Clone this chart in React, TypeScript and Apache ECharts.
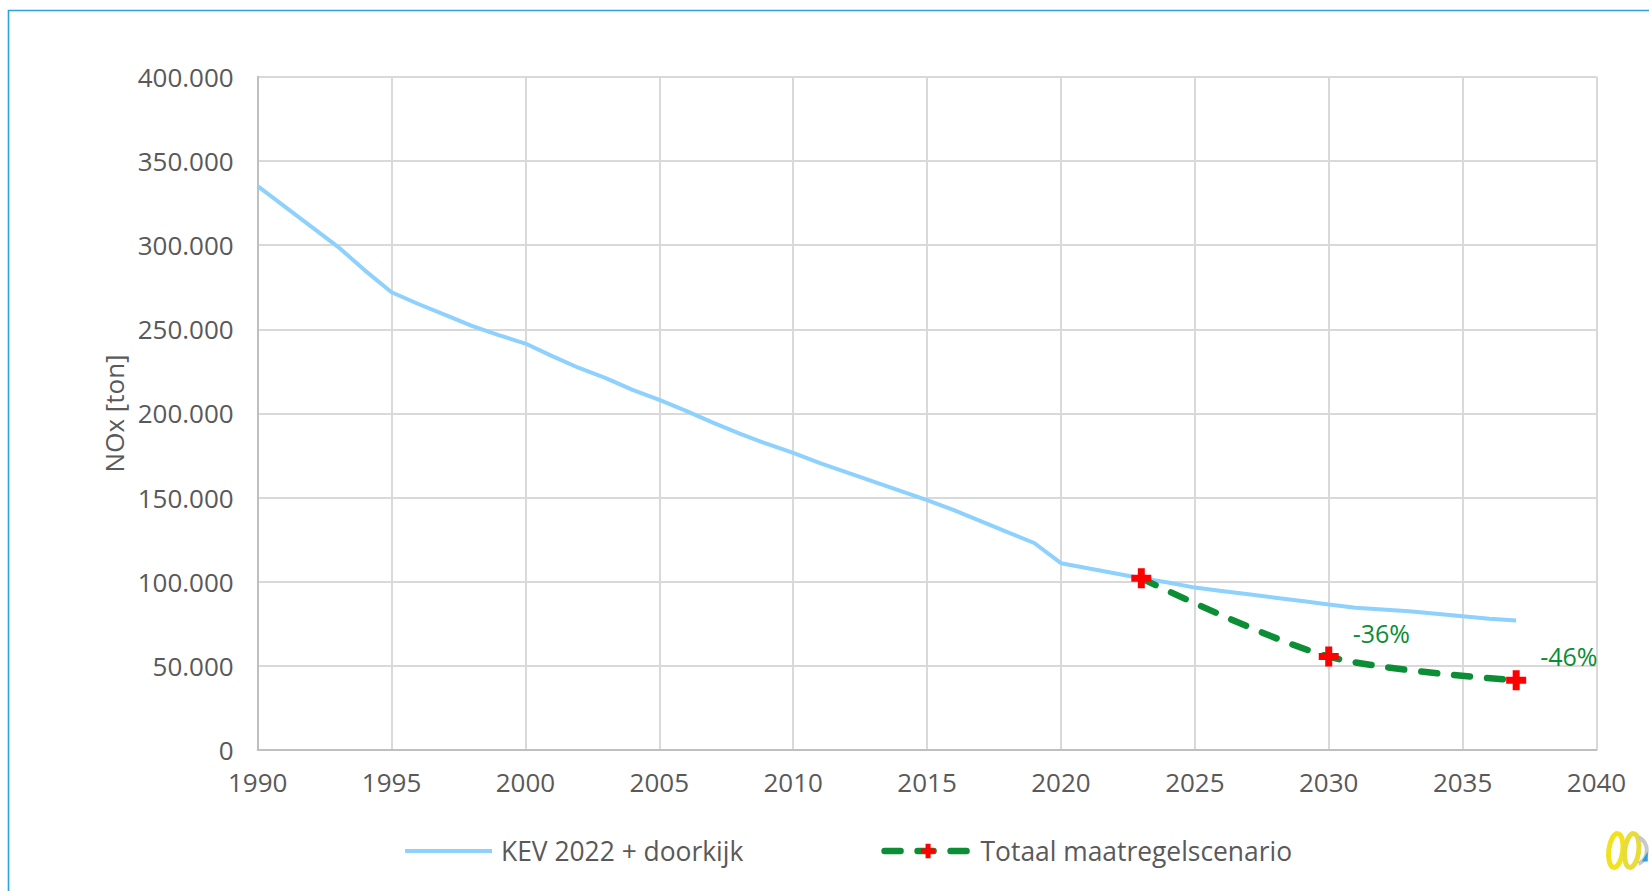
import React, { useEffect, useRef } from "react";
import * as echarts from "echarts";

// NOx emissions, tonnes per year
const kevYears = [
  1990, 1991, 1992, 1993, 1994, 1995, 1996, 1997, 1998, 1999, 2000, 2001, 2002,
  2003, 2004, 2005, 2006, 2007, 2008, 2009, 2010, 2011, 2012, 2013, 2014, 2015,
  2016, 2017, 2018, 2019, 2020, 2021, 2022, 2023, 2024, 2025, 2026, 2027, 2028,
  2029, 2030, 2031, 2032, 2033, 2034, 2035, 2036, 2037,
];
const kevValues = [
  335000, 323000, 311000, 299000, 285000, 272000, 265000, 258500, 252000,
  246500, 241500, 234000, 227000, 221000, 214000, 208000, 201500, 194500,
  188000, 182000, 176500, 170500, 165000, 159500, 154000, 148500, 142500,
  136000, 129500, 123000, 111000, 108000, 105000, 102000, 99500, 96500, 94500,
  92500, 90500, 88500, 86500, 84500, 83500, 82500, 81000, 79500, 78000, 77000,
];

const scenarioYears = [2023, 2030, 2037];
const scenarioValues = [102000, 55500, 41500];

const seriesNames = ["KEV 2022 + doorkijk", "Totaal maatregelscenario"];
const yAxisName = "NOx [ton]";

const FONT = "'Open Sans', 'Noto Sans', sans-serif";
const TEXT = "#595959";
const GRID = "#d9d9d9";
const AXIS = "#bfbfbf";
const BLUE = "#8ed1fc";
const GREEN = "#0b8e36";
const RED = "#ff0000";
const FRAME = "#29a3dc";

const PLUS = "path://M6.5 0H13.5V6.5H20V13.5H13.5V20H6.5V13.5H0V6.5H6.5Z";
const GREEN_DASH = [16, 17];

const thousands = (v: number) =>
  String(v).replace(/\B(?=(\d{3})+(?!\d))/g, ".");

// reduction of the scenario relative to the baseline in the same year
const reduction = (i: number) => {
  const base = kevValues[kevYears.indexOf(scenarioYears[i])];
  return `${Math.round((scenarioValues[i] / base - 1) * 100)}%`;
};

export default function App() {
  const ref = useRef<HTMLDivElement>(null);

  useEffect(() => {
    if (!ref.current) return;
    const chart = echarts.init(ref.current, null, { renderer: "svg" });

    chart.setOption({
      animation: false,
      backgroundColor: "#ffffff",
      textStyle: { fontFamily: FONT },
      grid: { left: 257.7, right: 52.5, top: 76.8, bottom: 141 },
      legend: {
        left: 398,
        top: 833,
        itemWidth: 87,
        itemHeight: 18,
        itemGap: 138,
        data: [
          {
            name: seriesNames[0],
            itemStyle: { opacity: 0 },
            lineStyle: { width: 4, color: BLUE },
          },
          {
            name: seriesNames[1],
            lineStyle: { width: 6.5, color: GREEN, type: GREEN_DASH, cap: "round" },
          },
        ],
        textStyle: { fontSize: 26.4, color: TEXT, fontFamily: FONT, padding: [0, 0, 0, 4] },
      },
      xAxis: {
        type: "value",
        min: 1990,
        max: 2040,
        interval: 5,
        axisLine: { show: true, lineStyle: { color: AXIS, width: 2 } },
        axisTick: { show: false },
        axisLabel: {
          color: TEXT,
          fontSize: 26,
          fontFamily: FONT,
          margin: 19,
          formatter: (v: number) => String(v),
        },
        splitLine: { show: true, lineStyle: { color: GRID, width: 2 } },
      },
      yAxis: {
        type: "value",
        min: 0,
        max: 400000,
        interval: 50000,
        name: yAxisName,
        nameLocation: "middle",
        nameGap: 130,
        nameTextStyle: { color: TEXT, fontSize: 26, fontFamily: FONT },
        axisLine: { show: true, lineStyle: { color: AXIS, width: 2 } },
        axisTick: { show: false },
        axisLabel: {
          color: TEXT,
          fontSize: 26,
          fontFamily: FONT,
          margin: 24,
          formatter: (v: number) => thousands(v),
        },
        splitLine: { show: true, lineStyle: { color: GRID, width: 2 } },
      },
      series: [
        {
          name: seriesNames[0],
          type: "line",
          data: kevYears.map((y, i) => [y, kevValues[i]]),
          showSymbol: false,
          symbol: "none",
          lineStyle: { color: BLUE, width: 4 },
          itemStyle: { color: BLUE },
          z: 2,
        },
        {
          name: seriesNames[1],
          type: "line",
          smooth: 0.3,
          data: scenarioYears.map((y, i) => ({
            value: [y, scenarioValues[i]],
            label:
              i > 0
                ? {
                    show: true,
                    position: "right",
                    distance: 14,
                    offset: [0, -24],
                    formatter: () => reduction(i),
                    color: GREEN,
                    fontSize: 25,
                    fontFamily: FONT,
                  }
                : { show: false },
          })),
          symbol: PLUS,
          symbolSize: 20,
          showSymbol: true,
          lineStyle: { color: GREEN, width: 6.5, type: GREEN_DASH, cap: "round" },
          itemStyle: { color: RED, borderWidth: 0 },
          z: 3,
        },
      ],
      graphic: [
        {
          type: "polyline",
          shape: { points: [[8.5, 900], [8.5, 10.5], [1660, 10.5]] },
          style: { stroke: FRAME, lineWidth: 1.6, fill: "none" },
          silent: true,
        },
        {
          type: "group",
          left: 1604,
          top: 830,
          silent: true,
          children: [
            {
              type: "ellipse",
              shape: { cx: 13, cy: 21, rx: 7, ry: 17 },
              rotation: -0.12,
              originX: 13,
              originY: 21,
              style: { stroke: "#f1e21c", lineWidth: 5, fill: "none" },
            },
            {
              type: "ellipse",
              shape: { cx: 29, cy: 21, rx: 7, ry: 17 },
              rotation: -0.12,
              originX: 29,
              originY: 21,
              style: { stroke: "#e8dc3a", lineWidth: 5, fill: "none" },
            },
            {
              type: "arc",
              shape: { cx: 29, cy: 21, r: 15, startAngle: -1.1, endAngle: 1.1 },
              style: { stroke: "#c8c8c8", lineWidth: 4, fill: "none" },
            },
            {
              type: "polygon",
              shape: { points: [[39, 32], [45, 22], [45, 32]] },
              style: { fill: "#2a9fe0" },
            },
          ],
        },
      ],
    });

    return () => chart.dispose();
  }, []);

  return (
    <div
      ref={ref}
      style={{
        position: "fixed",
        left: 0,
        top: 0,
        width: 1649,
        height: 891,
        background: "#ffffff",
      }}
    />
  );
}
